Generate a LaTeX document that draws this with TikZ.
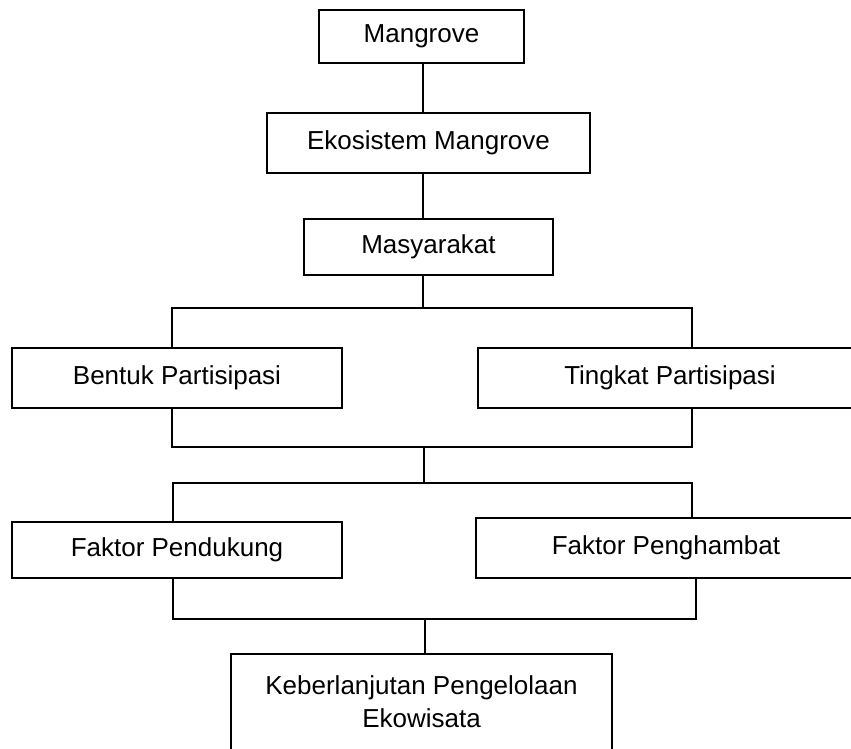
\documentclass[tikz,border=0pt]{standalone}
\usepackage{fontspec}
\setmainfont{Liberation Sans}
\begin{document}
\begin{tikzpicture}[x=0.5pt,y=-0.5pt,
  box/.style={draw=black, line width=1pt, rectangle, inner sep=0pt, font=\fontsize{13}{16.5}\selectfont},
  txt/.style={inner sep=0pt, align=center, font=\fontsize{13}{16.5}\selectfont},
  conn/.style={draw=black, line width=0.85pt}]
\useasboundingbox (0,0) rectangle (851,749);
\fill[white] (0,0) rectangle (851,749);
\clip (0,0) rectangle (851,749);
% boxes
\node[box, minimum width=102.5pt, minimum height=26.5pt] (m) at (421.5,36.5) {Mangrove};
\node[box, minimum width=161.5pt, minimum height=30pt] (e) at (428.5,143) {Ekosistem Mangrove};
\node[box, minimum width=124.5pt, minimum height=28pt] (mas) at (428.5,247) {Masyarakat};
\node[box, minimum width=165pt, minimum height=30pt] (b) at (177,378) {Bentuk Partisipasi};
\node[box, minimum width=192pt, minimum height=30pt] (t) at (670,378) {Tingkat Partisipasi};
\node[box, minimum width=165pt, minimum height=28pt] (fp) at (177,550) {Faktor Pendukung};
\node[box, minimum width=190pt, minimum height=30pt] (fh) at (666,548) {Faktor Penghambat};
\node[box, minimum width=190.5pt, minimum height=73pt] (k) at (421.5,727) {};
\node[txt] (kt) at (421.5,701.5) {Keberlanjutan Pengelolaan\\Ekowisata};
% junction coordinates
\coordinate (ax) at (423,308);
\coordinate (bl) at (172,308);
\coordinate (br) at (692,308);
\coordinate (cl) at (172,447);
\coordinate (cr) at (692,447);
\coordinate (cm) at (424,447);
\coordinate (dm) at (424,483);
\coordinate (dl) at (173,483);
\coordinate (dr) at (692,483);
\coordinate (el) at (173,619);
\coordinate (er) at (696,619);
\coordinate (em) at (425,619);
% connectors
\draw[conn] (m.south -| ax) -- (e.north -| ax);
\draw[conn] (e.south -| ax) -- (mas.north -| ax);
\draw[conn] (mas.south -| ax) -- (ax);
\draw[conn] (b.north -| bl) -- (bl) -- (br) -- (t.north -| br);
\draw[conn] (b.south -| cl) -- (cl) -- (cr) -- (t.south -| cr);
\draw[conn] (cm) -- (dm);
\draw[conn] (fp.north -| dl) -- (dl) -- (dr) -- (fh.north -| dr);
\draw[conn] (fp.south -| el) -- (el) -- (er) -- (fh.south -| er);
\draw[conn] (em) -- (k.north -| em);
\end{tikzpicture}
\end{document}
